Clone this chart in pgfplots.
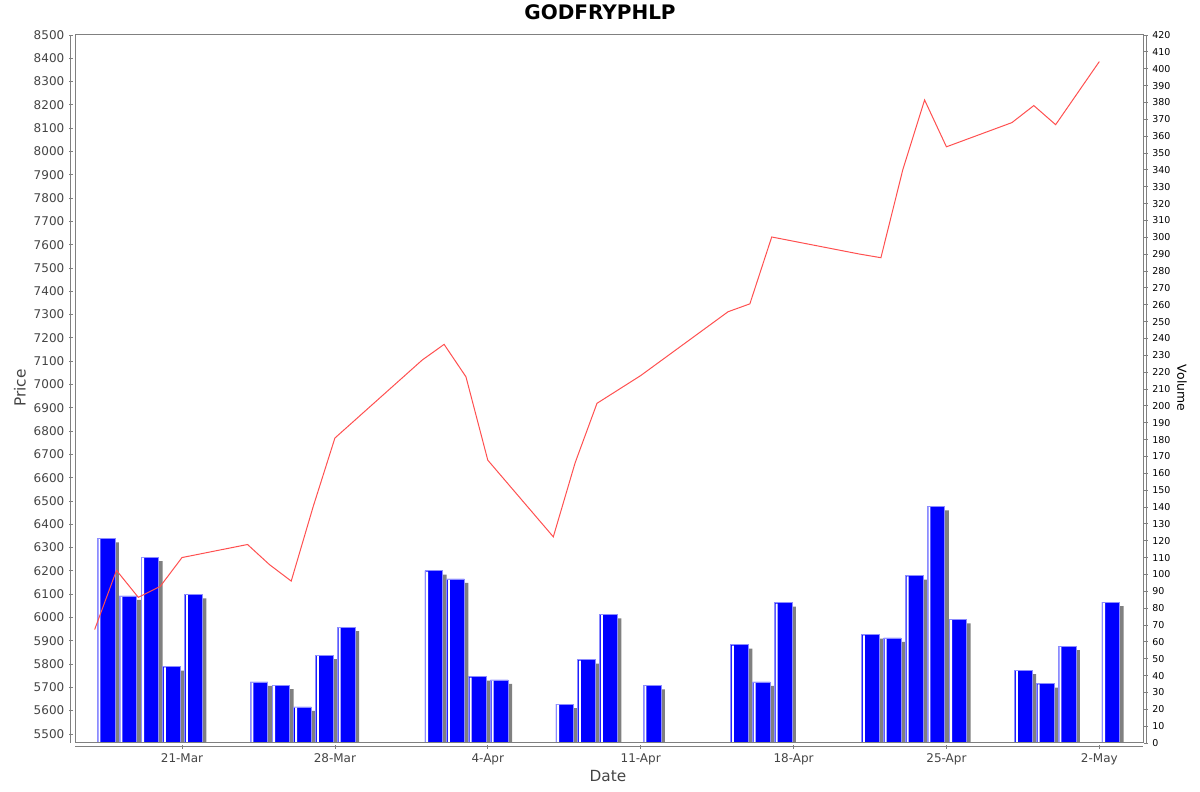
\documentclass[border=0pt]{standalone}
\usepackage{pgfplots}
\pgfplotsset{compat=1.18}
\usepackage{pgfplotstable}
\usepackage{fontspec}
\setmainfont{DejaVu Sans}
\definecolor{axgray}{HTML}{808080}
\definecolor{tk}{HTML}{444444}
\definecolor{barblue}{HTML}{0000FF}
\definecolor{baredge}{HTML}{8C8CFF}
\definecolor{shadowc}{HTML}{808080}
\definecolor{pline}{HTML}{FF5050}

% day offsets from 21-Mar
\pgfplotstableread{
d price
-4 5948
-3 6202
-2 6086
-1 6133
0 6257
3 6313
4 6227
5 6156
6 6474
7 6770
11 7105
12 7172
13 7033
14 6675
17 6346
18 6664
19 6919
21 7038
25 7312
26 7346
27 7633
31 7560
32 7544
33 7921
34 8221
35 8020
38 8124
39 8197
40 8115
42 8386
}\pricetable

\pgfplotstableread{
d vol
-4 121.4
-3 87.2
-2 110.3
-1 45.3
0 88.2
3 36.2
4 34.4
5 21.4
6 52.2
7 68.8
11 102.2
12 97.3
13 39.3
14 37.4
17 23.1
18 49.4
19 76.3
21 34.2
25 58.3
26 36.2
27 83.2
31 64.3
32 62.3
33 99.3
34 140.4
35 73.4
38 43.3
39 35.2
40 57.4
42 83.5
}\voltable

\begin{document}
\begin{tikzpicture}
\useasboundingbox (0,0) rectangle (900pt,594pt);
\pgfplotsset{
  common/.style={
    at={(56.25pt,36.75pt)}, anchor=south west, scale only axis,
    width=801pt, height=531pt, xmin=-4.9, xmax=44,
    tick align=outside,
    /pgf/number format/assume math mode=true,
    /pgf/number format/1000 sep={},
  }
}
% volume axis (bars)
\begin{axis}[common, ymin=0, ymax=420,
  axis x line=none, axis y line=right,
  y axis line style={-, axgray, line width=0.75pt, xshift=2.25pt},
  ytick={0,10,...,420},
  major tick length=2.5pt,
  ytick style={axgray, line width=0.6pt, xshift=2.25pt},
  yticklabel style={font=\fontsize{7.1}{8}\selectfont, text=black, xshift=2.25pt},
  ybar, bar width=13.2pt]
\addplot[fill=shadowc, draw=none, bar shift=11.6pt, yshift=-3pt] table[x=d, y=vol] {\voltable};
\addplot[fill=barblue, draw=baredge, line width=0.6pt, bar shift=8.6pt] table[x=d, y=vol] {\voltable};
\addplot[fill=white, draw=none, bar width=1.5pt, bar shift=3.6pt, yshift=-0.6pt] table[x=d, y=vol] {\voltable};
\end{axis}
% price axis (line)
\begin{axis}[common, ymin=5461, ymax=8500,
  axis x line=bottom, axis y line=left,
  x axis line style={-, axgray, line width=0.75pt, yshift=-3pt},
  y axis line style={-, axgray, line width=0.75pt, xshift=-3pt},
  major tick length=3pt,
  xtick style={axgray, line width=0.6pt, yshift=-3pt},
  ytick style={axgray, line width=0.6pt, xshift=-3pt},
  xtick={0,7,14,21,28,35,42},
  xticklabels={21-Mar,28-Mar,4-Apr,11-Apr,18-Apr,25-Apr,2-May},
  ytick={5500,5600,...,8500},
  xticklabel style={font=\fontsize{9}{10}\selectfont, text=tk, yshift=-3pt},
  yticklabel style={font=\fontsize{9}{10}\selectfont, text=tk, xshift=-3pt},
  clip=false]
\addplot[pline, line width=0.75pt, mark=none] table[x=d, y=price] {\pricetable};
\end{axis}
\draw[axgray, line width=0.75pt] (56.25pt,36.75pt) rectangle ++(801pt,531pt);
\node[font=\bfseries\fontsize{15}{18}\selectfont] at (450pt,585pt) {GODFRYPHLP};
\node[rotate=90, font=\fontsize{11.5}{13}\selectfont, text=tk] at (15pt,303pt) {Price};
\node[font=\fontsize{11.5}{13}\selectfont, text=tk] at (456pt,12pt) {Date};
\node[rotate=-90, font=\fontsize{9.3}{11}\selectfont] at (886.5pt,303pt) {Volume};
\end{tikzpicture}
\end{document}
